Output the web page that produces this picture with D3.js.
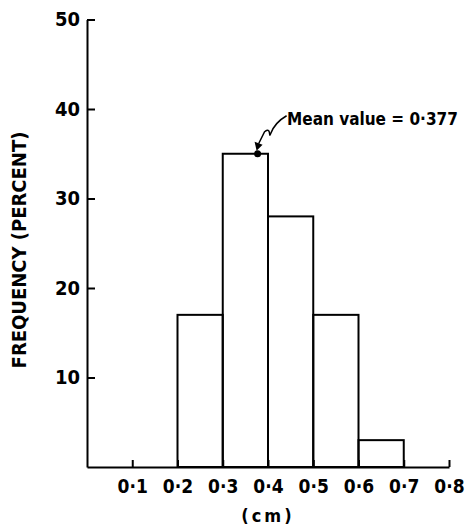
<!DOCTYPE html>
<html>
<head>
<meta charset="utf-8">
<script src="https://cdn.jsdelivr.net/npm/d3@7"></script>
<style>
  body { margin: 0; background: #fff; }
  text { font-family: "DejaVu Sans Condensed", "DejaVu Sans", sans-serif; font-weight: bold; fill: #000; }
</style>
</head>
<body>
<div id="chart"></div>
<script>
// histogram bins (cm) and frequency in percent
const binStarts = [0.2, 0.3, 0.4, 0.5, 0.6];
const binEnds = [0.3, 0.4, 0.5, 0.6, 0.7];
const frequency = [17, 35, 28, 17, 3];
const xTicks = [0.1, 0.2, 0.3, 0.4, 0.5, 0.6, 0.7, 0.8];
const yTicks = [10, 20, 30, 40, 50];
const meanValue = 0.377;

const width = 466, height = 527;
const svg = d3.select("#chart")
  .append("svg")
  .attr("width", width)
  .attr("height", height);

const x = d3.scaleLinear().domain([0, 0.8]).range([87, 449]);
const y = d3.scaleLinear().domain([0, 50]).range([467, 19.5]);

// bars
svg.selectAll("rect.bar")
  .data(frequency)
  .enter()
  .append("rect")
  .attr("class", "bar")
  .attr("x", (d, i) => x(binStarts[i]))
  .attr("y", d => y(d))
  .attr("width", (d, i) => x(binEnds[i]) - x(binStarts[i]))
  .attr("height", d => y(0) - y(d))
  .attr("fill", "none")
  .attr("stroke", "#000")
  .attr("stroke-width", 2);

// x axis
const xAxis = svg.append("g")
  .attr("transform", `translate(0,${y(0)})`)
  .call(d3.axisBottom(x).tickValues(xTicks).tickSizeInner(-7).tickSizeOuter(0)
    .tickFormat(d => d3.format(".1f")(d).replace(".", "\u00b7")));
xAxis.select(".domain").attr("stroke-width", 2);
xAxis.selectAll(".tick line").attr("stroke-width", 2);
xAxis.selectAll(".tick text").attr("font-size", "19px").attr("y", 13).attr("dy", "0.71em").attr("fill", "#000");

// y axis
const yAxis = svg.append("g")
  .attr("transform", `translate(${x(0)},0)`)
  .call(d3.axisLeft(y).tickValues(yTicks).tickSizeInner(-8).tickSizeOuter(0).tickPadding(7));
yAxis.select(".domain").attr("stroke-width", 2);
yAxis.selectAll(".tick line").attr("stroke-width", 2);
yAxis.selectAll(".tick text").attr("font-size", "20px").attr("fill", "#000");
svg.selectAll(".tick text").style("font-family", "'DejaVu Sans Condensed', 'DejaVu Sans', sans-serif").style("font-weight", "bold");

// axis titles
svg.append("text")
  .attr("x", x(0.4))
  .attr("y", 517)
  .attr("text-anchor", "middle")
  .attr("dominant-baseline", "middle")
  .attr("font-size", "18px")
  .attr("letter-spacing", "3px")
  .text("(cm)");

svg.append("text")
  .attr("transform", `translate(20,${250}) rotate(-90)`)
  .attr("text-anchor", "middle")
  .attr("dominant-baseline", "middle")
  .attr("font-size", "20px")
  .text("FREQUENCY (PERCENT)");

// mean marker and annotation
const peak = d3.max(frequency);
const mx = x(meanValue), my = y(peak);
svg.append("circle")
  .attr("cx", mx)
  .attr("cy", my)
  .attr("r", 3.5)
  .attr("fill", "#000");

svg.append("path")
  .attr("d", `M${mx + 29},${my - 38} C${mx + 22},${my - 34} ${mx + 16},${my - 28} ${mx + 13},${my - 20} C${mx + 11},${my - 14} ${mx + 14},${my - 28} ${mx + 7},${my - 22} L${mx + 1},${my - 10}`)
  .attr("fill", "none")
  .attr("stroke", "#000")
  .attr("stroke-width", 1.5);

svg.append("path")
  .attr("d", `M${mx - 3},${my - 12} L${mx + 5},${my - 9} L${mx - 1},${my - 3} Z`)
  .attr("fill", "#000");

svg.append("text")
  .attr("x", mx + 29.5)
  .attr("y", my - 29)
  .attr("font-size", "17px")
  .text("Mean value = 0\u00b7377");
</script>
</body>
</html>
